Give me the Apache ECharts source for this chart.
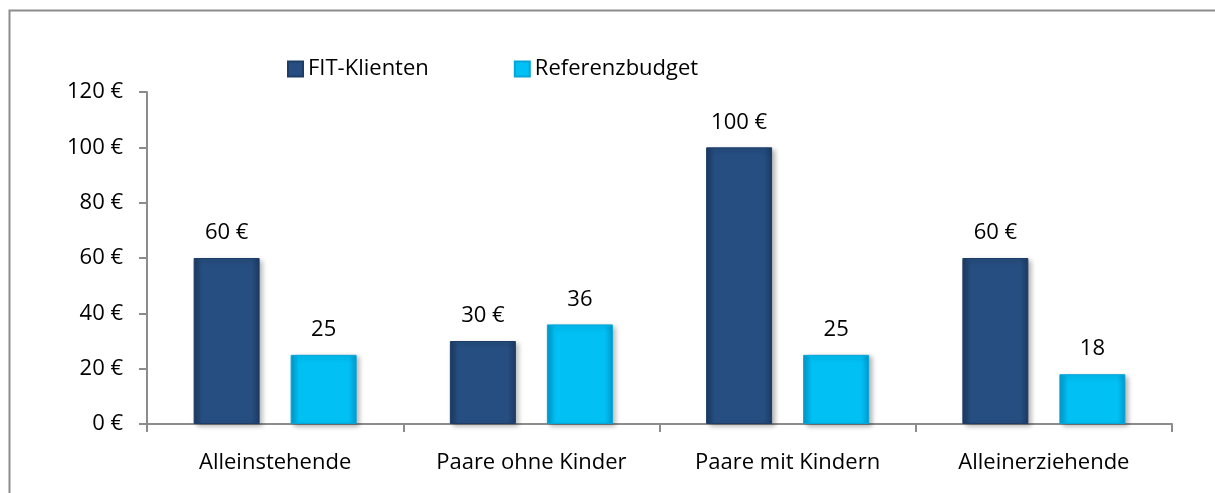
<!DOCTYPE html>
<html>
<head>
<meta charset="utf-8">
<script src="https://cdn.jsdelivr.net/npm/echarts@6/dist/echarts.min.js"></script>
<style>
  html, body { margin: 0; padding: 0; background: #fff; }
  #chart { width: 1215px; height: 493px; }
</style>
</head>
<body>
<div id="chart"></div>
<script>
// daten aus der vorlage
const categories = ['Alleinstehende', 'Paare ohne Kinder', 'Paare mit Kindern', 'Alleinerziehende']
const fitKlienten = [60, 30, 100, 60]
const referenzbudget = [25, 36, 25, 18]
const yTicks = { min: 0, max: 120, interval: 20 }

const FONT = 'Open Sans'

// balken mit leichtem "bevel" (dunkle kanten)
function bevel(edge, mid) {
  return new echarts.graphic.LinearGradient(0, 0, 1, 0, [
    { offset: 0, color: edge },
    { offset: 0.12, color: mid },
    { offset: 0.88, color: mid },
    { offset: 1, color: edge }
  ])
}

const chart = echarts.init(document.getElementById('chart'))
chart.setOption({
  animation: false,
  textStyle: { fontFamily: FONT },
  graphic: [{
    type: 'rect',
    shape: { x: 9.5, y: 10.5, width: 1240, height: 520 },
    style: { fill: 'none', stroke: '#8c8c8c', lineWidth: 2 },
    silent: true
  }],
  legend: {
    left: 282,
    top: 53,
    itemWidth: 15,
    itemHeight: 15,
    itemGap: 85,
    icon: 'rect',
    textStyle: { fontFamily: FONT, fontSize: 22, color: '#000' },
    data: ['FIT-Klienten', 'Referenzbudget']
  },
  grid: { left: 147, right: 43, top: 92, bottom: 69 },
  xAxis: {
    type: 'category',
    data: categories,
    axisLine: { lineStyle: { color: '#8c8c8c', width: 2 } },
    axisTick: { show: true, length: 8, lineStyle: { color: '#8c8c8c', width: 2 } },
    axisLabel: { color: '#000', fontSize: 22, fontFamily: FONT, margin: 28 }
  },
  yAxis: {
    type: 'value',
    min: yTicks.min,
    max: yTicks.max,
    interval: yTicks.interval,
    splitLine: { show: false },
    axisLine: { show: true, lineStyle: { color: '#8c8c8c', width: 2 } },
    axisTick: { show: true, length: 8, lineStyle: { color: '#8c8c8c', width: 2 } },
    axisLabel: { color: '#000', fontSize: 22, fontFamily: FONT, margin: 24, formatter: '{value} €' }
  },
  series: [
    {
      name: 'FIT-Klienten',
      type: 'bar',
      data: fitKlienten,
      barWidth: 66,
      barGap: '47%',
      itemStyle: {
        color: bevel('#1b3a62', '#264e80'),
        borderColor: '#1d3d66',
        borderWidth: 1,
        shadowColor: 'rgba(0,0,0,0.3)',
        shadowBlur: 5,
        shadowOffsetX: 3,
        shadowOffsetY: 2
      },
      label: {
        show: true,
        position: 'top',
        distance: 14,
        color: '#000',
        fontSize: 22,
        fontFamily: FONT,
        formatter: '{c} €'
      }
    },
    {
      name: 'Referenzbudget',
      type: 'bar',
      data: referenzbudget,
      barWidth: 66,
      itemStyle: {
        color: bevel('#0099cc', '#00c0f4'),
        borderColor: '#05a5d8',
        borderWidth: 1,
        shadowColor: 'rgba(0,0,0,0.3)',
        shadowBlur: 5,
        shadowOffsetX: 3,
        shadowOffsetY: 2
      },
      label: {
        show: true,
        position: 'top',
        distance: 14,
        color: '#000',
        fontSize: 22,
        fontFamily: FONT
      }
    }
  ]
})
</script>
</body>
</html>
